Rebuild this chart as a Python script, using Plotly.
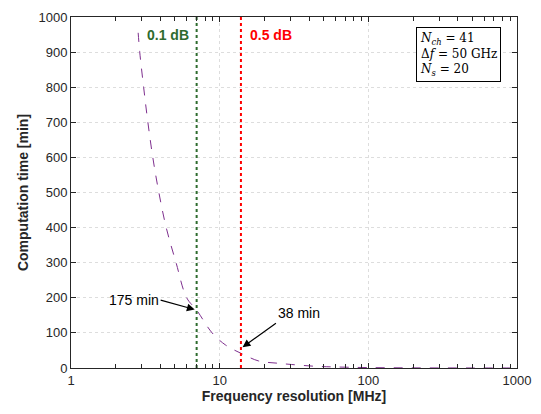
import math
import plotly.graph_objects as go

# Data
freq_mhz = [2.83, 2.90, 3.08, 3.29, 3.55, 3.90, 4.37, 5.09, 6.0, 7.0, 8.9, 11.0, 13.9, 18.3, 24.0, 30.5, 43.5, 60, 100, 200, 500, 1000]
time_min = [955, 900, 800, 700, 600, 500, 400, 300, 200, 165, 100, 65, 42, 20, 14, 10, 5, 3, 1.2, 0.4, 0.1, 0.05]
res_01db = 7.0
res_05db = 13.9
y_range = [0, 1000]
ann_175 = (7.0, 165, "175 min")
ann_38 = (13.9, 42, "38 min")

font_fam = "Liberation Sans, Arial, sans-serif"
axis_col = "#262626"
fig = go.Figure()

fig.add_trace(go.Scatter(x=freq_mhz, y=time_min, mode="lines",
                         line=dict(color="#7E2F8E", width=1, dash="dash", shape="spline"),
                         showlegend=False))
fig.add_trace(go.Scatter(x=[res_01db, res_01db], y=y_range, mode="lines",
                         line=dict(color="#2E6B2E", width=2, dash="dot"), showlegend=False))
fig.add_trace(go.Scatter(x=[res_05db, res_05db], y=y_range, mode="lines",
                         line=dict(color="#FF0000", width=2, dash="dot"), showlegend=False))

fig.add_annotation(x=math.log10(res_01db), y=950, text="<b>0.1 dB</b>", showarrow=False,
                   xanchor="right", xshift=-6, font=dict(color="#2E6B2E", size=14, family=font_fam))
fig.add_annotation(x=math.log10(res_05db), y=950, text="<b>0.5 dB</b>", showarrow=False,
                   xanchor="left", xshift=7, font=dict(color="#FF0000", size=14, family=font_fam))

fig.add_annotation(x=math.log10(ann_175[0]), y=ann_175[1], text=ann_175[2], showarrow=True,
                   ax=-36, ay=-10, arrowhead=2, arrowsize=1.3, arrowwidth=1.2, arrowcolor="black",
                   font=dict(size=14, family=font_fam, color="black"), xanchor="right",
                   standoff=2)
fig.add_annotation(x=math.log10(ann_38[0]), y=ann_38[1] + 14, text=ann_38[2], showarrow=True,
                   ax=35, ay=-25, arrowhead=2, arrowsize=1.3, arrowwidth=1.2, arrowcolor="black",
                   font=dict(size=14, family=font_fam, color="black"), xanchor="left", yanchor="bottom",
                   standoff=2)

fig.add_annotation(xref="paper", yref="paper", x=0.964, y=0.972, xanchor="right", yanchor="top",
                   text="<i>N</i><sub><i>ch</i></sub> = 41<br>Δ<i>f</i> = 50 GHz<br><i>N</i><sub><i>s</i></sub> = 20",
                   align="left", showarrow=False, bgcolor="white", bordercolor="black", borderwidth=1,
                   borderpad=3, font=dict(family="DejaVu Serif, Liberation Serif, serif", size=12, color="black"))

fig.update_xaxes(type="log", range=[0, 3], tickmode="linear", tick0=0, dtick=1, exponentformat="none",
                 ticks="inside", ticklen=5, tickcolor=axis_col, showline=True, linecolor=axis_col,
                 linewidth=1, mirror="ticks", showgrid=True, gridcolor="#DDDDDD", griddash="dot",
                 zeroline=False,
                 minor=dict(ticks="inside", ticklen=4, tickcolor=axis_col, showgrid=False, dtick="D1"),
                 title=dict(text="<b>Frequency resolution [MHz]</b>", font=dict(size=14, family=font_fam, color=axis_col), standoff=4),
                 tickfont=dict(size=13, family=font_fam, color=axis_col))
fig.update_yaxes(range=y_range, dtick=100, ticks="inside", ticklen=5, tickcolor=axis_col,
                 showline=True, linecolor=axis_col, linewidth=1, mirror="ticks",
                 showgrid=True, gridcolor="#DDDDDD", griddash="dot", zeroline=False,
                 title=dict(text="<b>Computation time [min]</b>", font=dict(size=14, family=font_fam, color=axis_col), standoff=6),
                 tickfont=dict(size=13, family=font_fam, color=axis_col))

fig.update_layout(width=541, height=414, margin=dict(l=71, r=20, t=10, b=46),
                  plot_bgcolor="white", paper_bgcolor="white", showlegend=False)

fig.write_html("out.html")
